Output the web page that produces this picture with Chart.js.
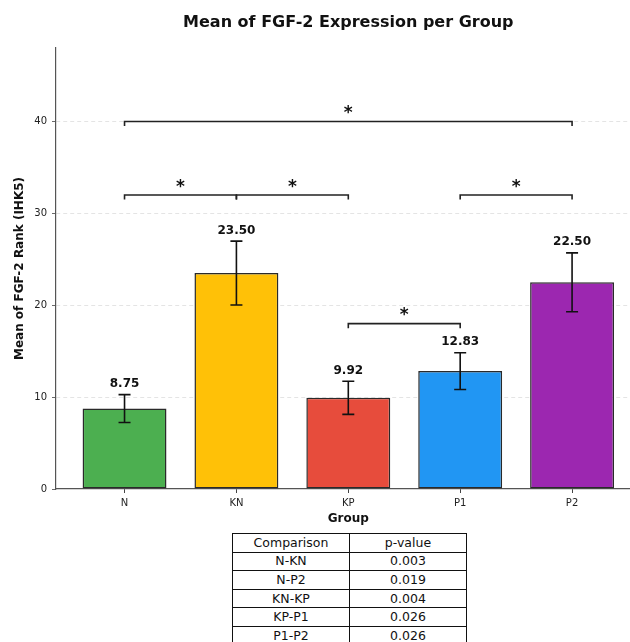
<!DOCTYPE html>
<html>
<head>
<meta charset="utf-8">
<title>Mean of FGF-2 Expression per Group</title>
<script src="https://cdn.jsdelivr.net/npm/chart.js@4.4.1/dist/chart.umd.min.js"></script>
<style>
    html, body { margin: 0; padding: 0; background: #fff; overflow: hidden; }
    #wrap { position: relative; width: 630px; height: 642px; overflow: hidden; }
    #chart { position: absolute; left: 0; top: 0; }
    #pvals {
        position: absolute; left: 232px; top: 533px; width: 235px;
        border-collapse: collapse; table-layout: fixed;
        font-family: 'DejaVu Sans', sans-serif; font-size: 12.5px; color: #111;
    }
    #pvals tr { height: 18.6px; }
    #pvals td { border: 1px solid #111; padding: 0; text-align: center; line-height: 16px; }
</style>
</head>
<body>
<div id="wrap">
    <canvas id="chart" width="650" height="530"></canvas>
    <table id="pvals"></table>
</div>
<script>
// Data
const groups = ['N', 'KN', 'KP', 'P1', 'P2'];
const means = [8.75, 23.50, 9.92, 12.83, 22.50];
const sems = [1.52, 3.48, 1.8, 2.0, 3.2];
const barColors = ['#4CAF50', '#FFC107', '#E74C3C', '#2196F3', '#9C27B0'];
const yTicks = [0, 10, 20, 30, 40];

// Pairwise comparisons (table + significance brackets)
const comparisons = ['N-KN', 'N-P2', 'KN-KP', 'KP-P1', 'P1-P2'];
const pValues = ['0.003', '0.019', '0.004', '0.026', '0.026'];
const bracketHeights = [32, 40, 32, 18, 32];

const FONT = "'DejaVu Sans', sans-serif";

// Table below the chart
const table = document.getElementById('pvals');
table.innerHTML = '<tr><td>Comparison</td><td>p-value</td></tr>' +
    comparisons.map((c, i) => `<tr><td>${c}</td><td>${pValues[i]}</td></tr>`).join('');

// Error bars, value labels, brackets and titles
const annotate = {
    id: 'annotate',
    afterDatasetsDraw(chart) {
        const { ctx, scales: { x, y } } = chart;
        ctx.save();
        ctx.setLineDash([]);

        // error bars + mean labels
        means.forEach((m, i) => {
            const px = x.getPixelForValue(i);
            const top = y.getPixelForValue(m + sems[i]);
            const bot = y.getPixelForValue(m - sems[i]);
            ctx.strokeStyle = '#111';
            ctx.lineWidth = 1.6;
            ctx.beginPath();
            ctx.moveTo(px, top); ctx.lineTo(px, bot);
            ctx.moveTo(px - 6, top); ctx.lineTo(px + 6, top);
            ctx.moveTo(px - 6, bot); ctx.lineTo(px + 6, bot);
            ctx.stroke();

            ctx.font = 'bold 12px ' + FONT;
            ctx.fillStyle = '#111';
            ctx.textAlign = 'center';
            ctx.textBaseline = 'alphabetic';
            ctx.fillText(m.toFixed(2), px, top - 7.5);
        });

        // significance brackets
        comparisons.forEach((c, i) => {
            const [a, b] = c.split('-').map(g => groups.indexOf(g));
            const x1 = x.getPixelForValue(a);
            const x2 = x.getPixelForValue(b);
            const yy = y.getPixelForValue(bracketHeights[i]);
            const yd = y.getPixelForValue(bracketHeights[i] - 0.5);
            ctx.strokeStyle = '#222';
            ctx.lineWidth = 1.6;
            ctx.beginPath();
            ctx.moveTo(x1, yd); ctx.lineTo(x1, yy); ctx.lineTo(x2, yy); ctx.lineTo(x2, yd);
            ctx.stroke();

            ctx.font = 'bold 17px ' + FONT;
            ctx.fillStyle = '#111';
            ctx.textAlign = 'center';
            ctx.textBaseline = 'alphabetic';
            ctx.fillText('*', (x1 + x2) / 2, yy - 3.5);
        });
        ctx.restore();
    },
    afterDraw(chart) {
        const { ctx, chartArea } = chart;
        const cx = (chartArea.left + chartArea.right) / 2;
        const cy = (chartArea.top + chartArea.bottom) / 2;
        ctx.save();
        ctx.fillStyle = '#111';
        ctx.textAlign = 'center';

        ctx.font = 'bold 16px ' + FONT;
        ctx.textBaseline = 'alphabetic';
        ctx.fillText('Mean of FGF-2 Expression per Group', cx, 26.5);

        ctx.font = 'bold 12px ' + FONT;
        ctx.fillText('Group', cx, 521.5);

        ctx.translate(20, cy);
        ctx.rotate(-Math.PI / 2);
        ctx.textBaseline = 'middle';
        ctx.fillText('Mean of FGF-2 Rank (IHK5)', 0, 0);
        ctx.restore();
    }
};

new Chart(document.getElementById('chart'), {
    type: 'bar',
    data: {
        datasets: [{
            data: means.map((m, i) => ({ x: i, y: m })),
            backgroundColor: barColors,
            borderColor: '#2a2a2a',
            borderWidth: 1.5,
            borderSkipped: false,
            barPercentage: 0.75,
            categoryPercentage: 1
        }]
    },
    options: {
        responsive: false,
        animation: false,
        devicePixelRatio: 1,
        layout: { padding: { top: 48, right: 9.4, left: 0, bottom: 0 } },
        plugins: {
            legend: { display: false },
            tooltip: { enabled: false },
            title: { display: false }
        },
        scales: {
            x: {
                type: 'linear',
                offset: false,
                min: -0.6125,
                max: 4.6125,
                afterBuildTicks: scale => { scale.ticks = groups.map((g, i) => ({ value: i })); },
                afterFit: scale => { scale.height = 41; },
                ticks: {
                    callback: v => groups[v],
                    font: { family: FONT, size: 10 },
                    color: '#222',
                    padding: 4,
                    maxRotation: 0
                },
                grid: { offset: false, drawOnChartArea: false, drawTicks: true, tickLength: 4, tickColor: '#444' },
                border: { display: true, color: '#555', width: 1.2 }
            },
            y: {
                min: 0,
                max: 48,
                afterBuildTicks: scale => { scale.ticks = yTicks.map(v => ({ value: v })); },
                afterFit: scale => { scale.width = 56; },
                ticks: {
                    font: { family: FONT, size: 10 },
                    color: '#222',
                    padding: 5
                },
                grid: {
                    color: c => (c.tick && c.tick.value === 0) ? 'rgba(0,0,0,0)' : '#dddddd',
                    lineWidth: 0.8,
                    drawTicks: true,
                    tickLength: 4,
                    tickColor: '#444',
                    tickBorderDash: []
                },
                border: { display: true, color: '#555', width: 1.2, dash: [4, 3] }
            }
        }
    },
    plugins: [annotate]
});
</script>
</body>
</html>
